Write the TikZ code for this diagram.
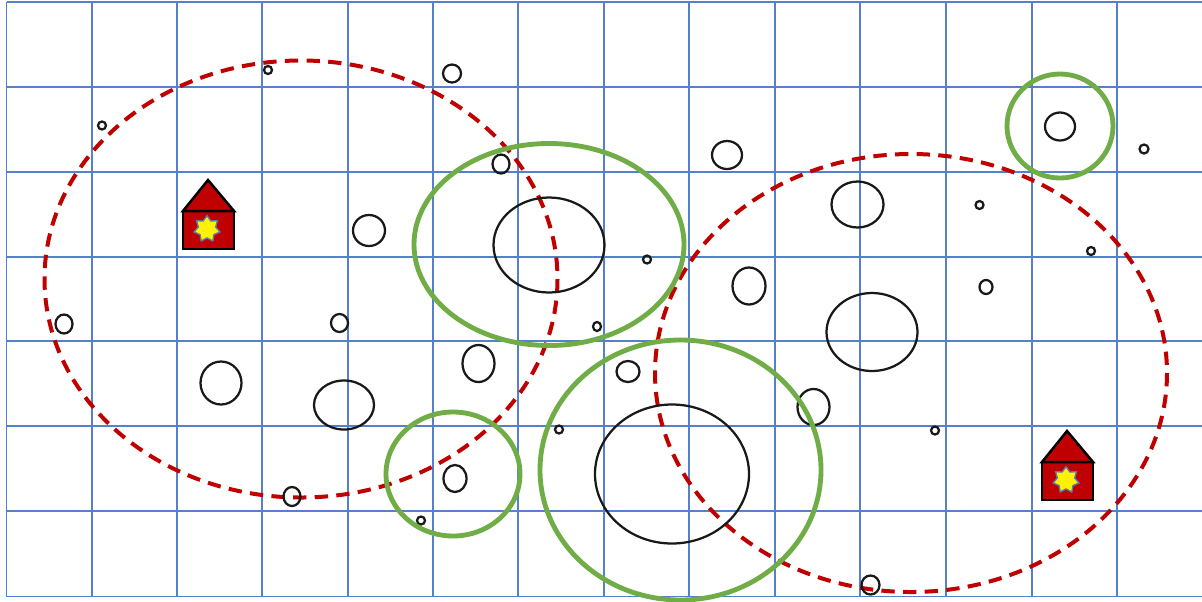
\documentclass[tikz,border=0pt]{standalone}
\usetikzlibrary{shapes.geometric}
\definecolor{gridblue}{HTML}{5580CC}
\definecolor{zonered}{HTML}{C00000}
\definecolor{zonegreen}{HTML}{70AD47}
\definecolor{staredge}{HTML}{5A7AB0}
\tikzset{
  x=0.6pt,y=-0.6pt,
  gridline/.style={draw=gridblue,line width=1.05pt},
  blob/.style={draw=black!90,line width=1.35pt},
  greenzone/.style={draw=zonegreen,line width=2.9pt},
  redzone/.style={draw=zonered,line width=2.4pt,dash pattern=on 8pt off 5pt},
  houseshape/.style={draw=black,fill=zonered,line width=1.5pt,line join=miter},
  hstar/.style={star,star points=7,star point ratio=1.5,minimum size=16pt,inner sep=0pt,draw=staredge,line width=0.8pt,fill=yellow}
}
\begin{document}
\begin{tikzpicture}
\useasboundingbox (0,0) rectangle (1202,601);
\fill[white] (0,0) rectangle (1202,601);
% grid
\foreach \gx in {6.5,92,177,262,348,433,518,604,689,775,860,946,1032,1117}
  \draw[gridline] (\gx,2) -- (\gx,596.5);
\foreach \gy in {2,87,172,257,341,426,511,596.5}
  \draw[gridline] (6.5,\gy) -- (1202,\gy);
% red zones
\draw[redzone] (301,279) ellipse [x radius=256.5, y radius=218.5];
\draw[redzone] (911,373) ellipse [x radius=256, y radius=219];
% blobs
\foreach \cx/\cy/\rx/\ry in {268/70/4/4,102/125.5/4/4,452/73.5/9/9,501/164/8.5/9.5,727/155/15/14,1060/126.5/15/14,1144/149/4.5/4.5,857.5/204.5/26/23,979.5/205/4/4,369/230.5/16/15.5,549/245/55.5/47.5,647/259.5/4/4,1091/251/4/4,749/286/16.5/18.5,986/287/6.5/7,64/324/8.5/9.5,339.5/323/8.5/9,597/326.5/4/4.5,872/332/45.5/39,478.5/363.5/16/18.5,628/371.5/11.5/10.5,221/383/20.5/21.5,344/405/30/24.5,813.5/407/16/18,559/429.5/4/4,935/430.5/4/4,672/474/77/69.5,455/478.5/11.5/13.5,292/496.5/8.5/9.5,421/520.5/4/4,870.5/585/9/9.5}
  \draw[blob] (\cx,\cy) ellipse [x radius=\rx, y radius=\ry];
% green zones
\foreach \cx/\cy/\rx/\ry in {549/244.5/135/101,1060/126/53/52,453/474/67/62,680.5/470/140.5/130}
  \draw[greenzone] (\cx,\cy) ellipse [x radius=\rx, y radius=\ry];
% houses
\foreach \hx/\hy in {208/211,1067/462}{
  \begin{scope}[shift={(\hx,\hy)}]
    \draw[houseshape] (-25,0) rectangle (26,38);
    \draw[houseshape] (-25,0) -- (0,-31) -- (26,0) -- cycle;
    \node[hstar] at (-1,18) {};
  \end{scope}
}
\end{tikzpicture}
\end{document}
